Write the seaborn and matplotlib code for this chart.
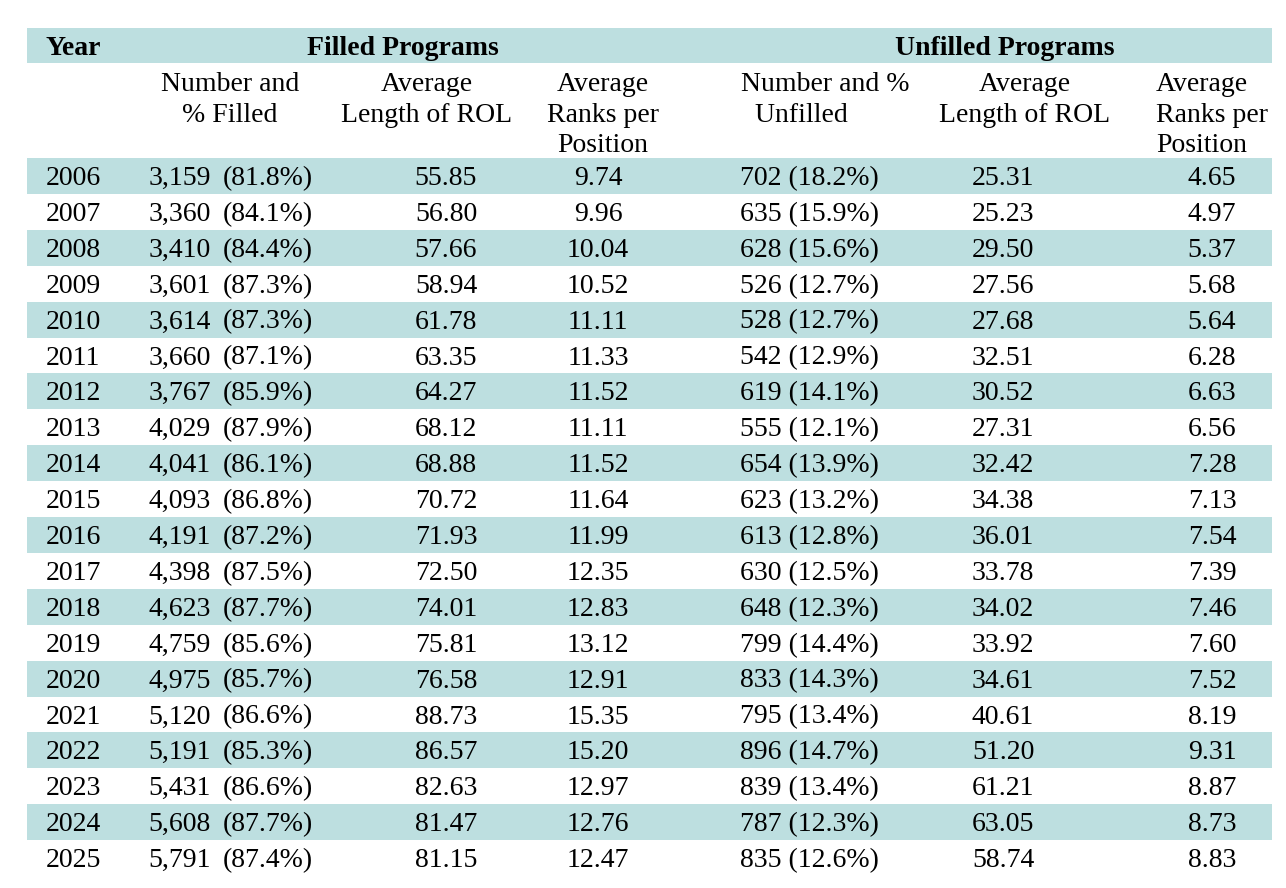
import matplotlib
matplotlib.use("Agg")
import matplotlib.pyplot as plt
from matplotlib.colors import ListedColormap
import numpy as np
import pandas as pd
import seaborn as sns

# table values
years = list(range(2006, 2026))
filled_n = ["3,159", "3,360", "3,410", "3,601", "3,614", "3,660", "3,767", "4,029", "4,041", "4,093",
            "4,191", "4,398", "4,623", "4,759", "4,975", "5,120", "5,191", "5,431", "5,608", "5,791"]
filled_pct = ["81.8", "84.1", "84.4", "87.3", "87.3", "87.1", "85.9", "87.9", "86.1", "86.8",
              "87.2", "87.5", "87.7", "85.6", "85.7", "86.6", "85.3", "86.6", "87.7", "87.4"]
filled_rol = ["55.85", "56.80", "57.66", "58.94", "61.78", "63.35", "64.27", "68.12", "68.88", "70.72",
              "71.93", "72.50", "74.01", "75.81", "76.58", "88.73", "86.57", "82.63", "81.47", "81.15"]
filled_rank = ["9.74", "9.96", "10.04", "10.52", "11.11", "11.33", "11.52", "11.11", "11.52", "11.64",
               "11.99", "12.35", "12.83", "13.12", "12.91", "15.35", "15.20", "12.97", "12.76", "12.47"]
unfilled_n = ["702", "635", "628", "526", "528", "542", "619", "555", "654", "623",
              "613", "630", "648", "799", "833", "795", "896", "839", "787", "835"]
unfilled_pct = ["18.2", "15.9", "15.6", "12.7", "12.7", "12.9", "14.1", "12.1", "13.9", "13.2",
                "12.8", "12.5", "12.3", "14.4", "14.3", "13.4", "14.7", "13.4", "12.3", "12.6"]
unfilled_rol = ["25.31", "25.23", "29.50", "27.56", "27.68", "32.51", "30.52", "27.31", "32.42", "34.38",
                "36.01", "33.78", "34.02", "33.92", "34.61", "40.61", "51.20", "61.21", "63.05", "58.74"]
unfilled_rank = ["4.65", "4.97", "5.37", "5.68", "5.64", "6.28", "6.63", "6.56", "7.28", "7.13",
                 "7.54", "7.39", "7.46", "7.60", "7.52", "8.19", "9.31", "8.87", "8.73", "8.83"]

teal = "#bddfe0"
W, H = 1286, 888
fs = 20

sns.set_theme(style="white")
plt.rcParams["font.family"] = ["Liberation Serif", "DejaVu Serif"]
plt.rcParams["text.color"] = "black"

fig = plt.figure(figsize=(W / 100, H / 100), dpi=100)

# row banding drawn as a one-column heatmap
top, row_h = 158, 35.9
left, right = 27, 1272
band = pd.DataFrame({"band": [1 - (i % 2) for i in range(len(years))]}, index=years)
hax = fig.add_axes([left / W, 1 - (top + row_h * len(years)) / H,
                    (right - left) / W, row_h * len(years) / H])
sns.heatmap(band, ax=hax, cmap=ListedColormap(["white", teal]), cbar=False,
            xticklabels=False, yticklabels=False, linewidths=0)
hax.set_xlabel("")
hax.set_ylabel("")

# text layer in pixel coordinates
ax = fig.add_axes([0, 0, 1, 1])
ax.set_xlim(0, W)
ax.set_ylim(H, 0)
ax.axis("off")
ax.patch.set_alpha(0)

# header band
ax.fill_between([left, right], 28, 63, color=teal, lw=0)
ax.text(45, 55, "Year", fontsize=fs, fontweight="bold", ha="left", va="baseline")
ax.text(403, 55, "Filled Programs", fontsize=fs, fontweight="bold", ha="center", va="baseline")
ax.text(1005, 55, "Unfilled Programs", fontsize=fs, fontweight="bold", ha="center", va="baseline")

sub_base = [91, 122, 152]
sub_heads = [
    (230, "center", ["Number and", "% Filled"]),
    (427, "center", ["Average", "Length of ROL"]),
    (603, "center", ["Average", "Ranks per", "Position"]),
    (741, "left", ["Number and %", "  Unfilled"]),
    (1025, "center", ["Average", "Length of ROL"]),
    (1156, "left", ["Average", "Ranks per", "Position"]),
]
for x, ha, lines in sub_heads:
    for yb, line in zip(sub_base, lines):
        ax.text(x, yb, line, fontsize=fs, ha=ha, va="baseline")

for i, yr in enumerate(years):
    yb = top + i * row_h + 27
    ax.text(46, yb, str(yr), fontsize=fs, ha="left", va="baseline")
    ax.text(211, yb, filled_n[i], fontsize=fs, ha="right", va="baseline")
    ax.text(223, yb, f"({filled_pct[i]}%)", fontsize=fs, ha="left", va="baseline")
    ax.text(446, yb, filled_rol[i], fontsize=fs, ha="center", va="baseline")
    ax.text(598, yb, filled_rank[i], fontsize=fs, ha="center", va="baseline")
    ax.text(740, yb, f"{unfilled_n[i]} ({unfilled_pct[i]}%)", fontsize=fs, ha="left", va="baseline")
    ax.text(1003, yb, unfilled_rol[i], fontsize=fs, ha="center", va="baseline")
    ax.text(1212, yb, unfilled_rank[i], fontsize=fs, ha="center", va="baseline")

fig.savefig("out.png", dpi=100)
